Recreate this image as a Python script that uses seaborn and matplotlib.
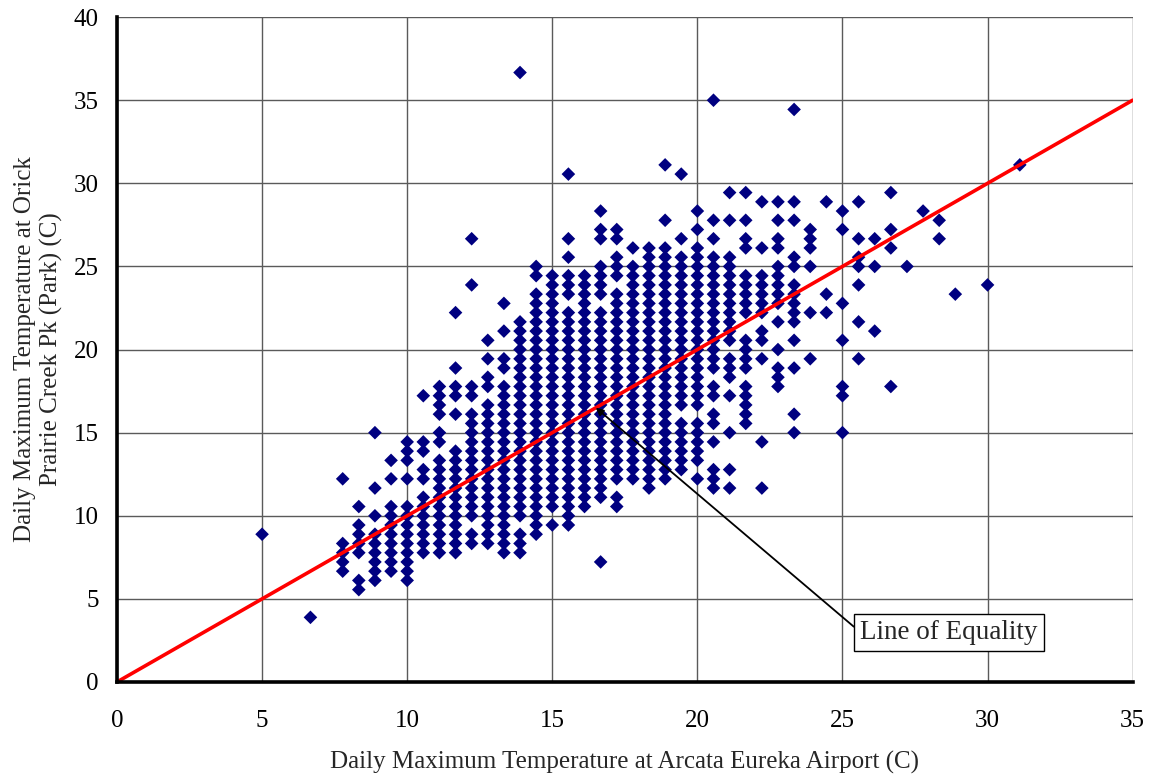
import matplotlib
matplotlib.use("Agg")
import matplotlib.pyplot as plt
import pandas as pd
import seaborn as sns

# Daily maxima were logged in whole degrees Fahrenheit.  Each airport reading
# is listed with the park readings seen on the same days ("a-b" = a..b inclusive).
airport_f = [41, 44, 46, 47, 48, 49, 50, 51, 52, 53, 54, 55, 56, 57, 58, 59,
             60, 61, 62, 63, 64, 65, 66, 67, 68, 69, 70, 71, 72, 73, 74, 75,
             76, 77, 78, 79, 80, 81, 82, 83, 84, 86, 88]
park_f = [
    "48",
    "39",
    "44-47 54",
    "42 43 46-49 51",
    "43-48 50 53 59",
    "44-51 54 56",
    "43-51 54 56-58",
    "46-52 54 55 57 58 63",
    "46-56 58 59 61-64",
    "46-57 61 63 64 66 72",
    "47 48 50-61 63 64 75 80",
    "47-62 64 65 67 69",
    "46-64 66 67 70 73",
    "46-48 50-71 98",
    "48-74 76 77",
    "49 51-76",
    "49-72 74-76 78 80 87",
    "51-76",
    "45 52-72 74-77 80 81 83",
    "51 52 54-74 76-78 80 81",
    "54-77 79",
    "53-79",
    "54-79 82 88",
    "55-60 62-78 80 87",
    "54 56-60 62-79 81 83",
    "53-55 58 60 61 63 64 66-78 80 82 95",
    "53 55 59 63 65-67 69-78 82 85",
    "60-64 66-69 72-76 79 80 82 85",
    "53 58 67 69 70 72-76 79 84",
    "64-66 68 71 73-77 79 80 82 84",
    "59 61 66 69 71-75 77 78 82 84 94",
    "67 72 77 79-81",
    "72 74 84",
    "59 63 64 69 73 81 83",
    "67 71 75 77 78 80 84",
    "70 77 80",
    "64 79 81 85",
    "77",
    "83",
    "80 82",
    "74",
    "75",
    "88",
]

x_ticks = [0, 5, 10, 15, 20, 25, 30, 35]
y_ticks = [0, 5, 10, 15, 20, 25, 30, 35, 40]
x_label = "Daily Maximum Temperature at Arcata Eureka Airport (C)"
y_label = "Daily Maximum Temperature at Orick\nPrairie Creek Pk (Park) (C)"
equality = [0, 35]
note_text = "Line of Equality"
note_point = (16.5, 16.5)
note_pos = (28.67, 3.0)


def expand(spec):
    vals = []
    for tok in spec.split():
        if "-" in tok:
            a, b = tok.split("-")
            vals.extend(range(int(a), int(b) + 1))
        else:
            vals.append(int(tok))
    return vals


def f_to_c(f):
    return (f - 32) * 5.0 / 9.0


rows = []
for af, spec in zip(airport_f, park_f):
    for pf in expand(spec):
        rows.append((f_to_c(af), f_to_c(pf)))
df = pd.DataFrame(rows, columns=["airport", "park"])

sns.set_style("white")
plt.rcParams["font.family"] = ["Liberation Serif", "DejaVu Serif"]

fig = plt.figure(figsize=(11.56, 7.78), dpi=100)
ax = fig.add_axes([0.1012, 0.1234, 0.9798 - 0.1012, 0.978 - 0.1234])

sns.scatterplot(data=df, x="airport", y="park", marker="D", s=48,
                color="#000080", edgecolor="none", linewidth=0, ax=ax,
                zorder=3, legend=False)
sns.lineplot(x=equality, y=equality, color="#ff0000", linewidth=2.6, ax=ax,
             zorder=4)

ax.set_xlim(0, 35)
ax.set_ylim(0, 40)
ax.set_xticks(x_ticks)
ax.set_yticks(y_ticks)
ax.grid(True, color="#5a5a5a", linewidth=1.0)
ax.set_axisbelow(True)

for side in ("top", "right"):
    ax.spines[side].set_visible(False)
for side in ("left", "bottom"):
    ax.spines[side].set_color("black")
    ax.spines[side].set_linewidth(2.6)
    ax.spines[side].set_zorder(5)

ax.tick_params(axis="both", direction="in", length=5, width=2,
               color="black", labelsize=18, labelcolor="black")
ax.tick_params(axis="y", pad=13)
ax.tick_params(axis="x", pad=20)

ax.set_xlabel(x_label, fontsize=18, labelpad=14)
ax.set_ylabel(y_label, fontsize=18, labelpad=8)

ax.annotate(note_text, xy=note_point, xytext=note_pos, fontsize=19.5,
            ha="center", va="center", zorder=6,
            bbox=dict(boxstyle="square,pad=0.22", fc="white", ec="black",
                      lw=1.0),
            arrowprops=dict(arrowstyle="-|>", color="black", lw=1.3,
                            mutation_scale=11, shrinkA=0, shrinkB=0,
                            relpos=(0.0, 0.5)))

fig.savefig("out.png", dpi=100)
